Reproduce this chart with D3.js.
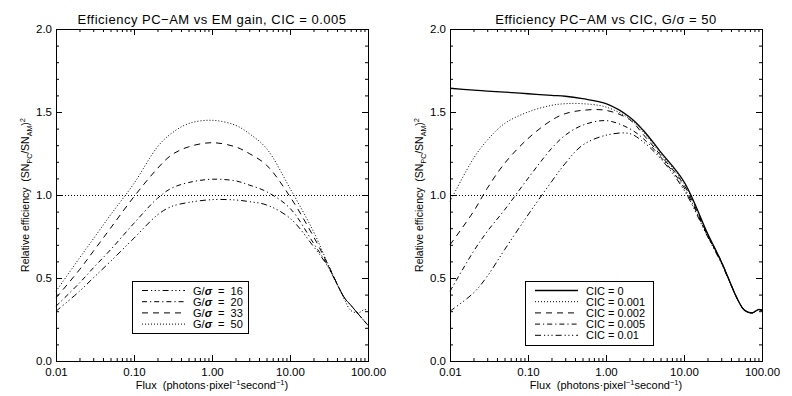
<!DOCTYPE html>
<html>
<head>
<meta charset="utf-8">
<script src="https://cdn.jsdelivr.net/npm/d3@7"></script>
<style>
  body { margin: 0; background: #fff; }
  svg { display: block; font-family: "Liberation Sans", Arial, sans-serif; }
</style>
</head>
<body>
<svg id="chart" width="792" height="396"></svg>
<script>
// flux samples (photons/pixel/second), shared by every curve
const flux = [0.01, 0.02, 0.03, 0.05, 0.1, 0.2, 0.3, 0.5, 1, 2, 3, 5, 10, 20, 30, 50, 60, 75, 90, 100];

// left panel: G/sigma, CIC = 0.005
const gainLabels = ['16', '20', '33', '50'];
const gain16 = [0.30, 0.42, 0.50, 0.60, 0.74, 0.88, 0.93, 0.955, 0.972, 0.97, 0.96, 0.94, 0.86, 0.69, 0.575, 0.38, 0.337, 0.283, 0.24, 0.215];
const gain20 = [0.33, 0.47, 0.56, 0.67, 0.83, 0.98, 1.04, 1.075, 1.095, 1.085, 1.06, 1.02, 0.92, 0.71, 0.58, 0.38, 0.337, 0.283, 0.24, 0.215];
const gain33 = [0.38, 0.55, 0.66, 0.80, 0.99, 1.16, 1.24, 1.29, 1.315, 1.29, 1.25, 1.18, 0.99, 0.75, 0.59, 0.38, 0.337, 0.283, 0.24, 0.215];
const gain50 = [0.42, 0.62, 0.735, 0.88, 1.07, 1.29, 1.37, 1.43, 1.45, 1.42, 1.37, 1.28, 1.04, 0.78, 0.595, 0.37, 0.305, 0.29, 0.31, 0.305];

// right panel: CIC, G/sigma = 50
const cicLabels = ['0', '0.001', '0.002', '0.005', '0.01'];
const cic0    = [1.643, 1.632, 1.626, 1.62, 1.61, 1.60, 1.595, 1.58, 1.55, 1.47, 1.39, 1.26, 1.08, 0.77, 0.60, 0.36, 0.305, 0.29, 0.31, 0.305];
const cic0001 = [0.96, 1.22, 1.33, 1.43, 1.50, 1.54, 1.55, 1.55, 1.53, 1.46, 1.38, 1.25, 1.07, 0.765, 0.60, 0.36, 0.305, 0.29, 0.31, 0.305];
const cic0002 = [0.70, 0.90, 1.04, 1.19, 1.34, 1.45, 1.49, 1.51, 1.51, 1.455, 1.365, 1.24, 1.06, 0.76, 0.60, 0.36, 0.305, 0.29, 0.31, 0.305];
const cic0005 = [0.42, 0.66, 0.78, 0.91, 1.10, 1.28, 1.36, 1.42, 1.448, 1.40, 1.34, 1.23, 1.045, 0.755, 0.595, 0.36, 0.305, 0.29, 0.31, 0.305];
const cic001  = [0.30, 0.41, 0.51, 0.67, 0.88, 1.08, 1.19, 1.30, 1.36, 1.37, 1.32, 1.22, 1.03, 0.75, 0.59, 0.36, 0.305, 0.29, 0.31, 0.305];

const xTickValues = [0.01, 0.1, 1, 10, 100];
const xTickLabels = ['0.01', '0.10', '1.00', '10.00', '100.00'];
const yTickValues = [0, 0.5, 1, 1.5, 2];
const yTickLabels = ['0.0', '0.5', '1.0', '1.5', '2.0'];

const DASH = {
  solid: null,
  dot: '1,2',
  dash: '6,5',
  dashDot: '5,3,1.2,3',
  dashDot3: '6,3,1.2,2.5,1.2,2.5,1.2,3'
};

const svg = d3.select('#chart');
const plotTop = 29, plotBottom = 361;

function panel(cfg) {
  const g = svg.append('g');
  const x = d3.scaleLog().domain([0.01, 100]).range([cfg.left, cfg.right]);
  const y = d3.scaleLinear().domain([0, 2]).range([plotBottom, plotTop]);

  // minor ticks
  const xMinor = x.ticks().filter(v => !xTickValues.some(m => Math.abs(m - v) < 1e-9));
  const yMinor = y.ticks(20).filter(v => Math.abs(v * 2 - Math.round(v * 2)) > 1e-6);

  [[d3.axisBottom(x), plotBottom], [d3.axisTop(x), plotTop]].forEach(([ax, yy]) => {
    g.append('g').attr('transform', `translate(0,${yy})`)
      .call(ax.tickValues(xMinor).tickSize(-3).tickFormat(''))
      .call(s => s.select('.domain').remove());
  });
  g.append('g').attr('transform', `translate(0,${plotTop})`)
    .call(d3.axisTop(x).tickValues(xTickValues).tickSize(-6).tickFormat(''))
    .call(s => s.select('.domain').remove());
  g.append('g').attr('transform', `translate(0,${plotBottom})`)
    .call(d3.axisBottom(x).tickValues(xTickValues).tickSize(-6).tickPadding(7)
      .tickFormat((d, i) => xTickLabels[i]))
    .call(s => s.select('.domain').remove());

  g.append('g').attr('transform', `translate(${cfg.left},0)`)
    .call(d3.axisLeft(y).tickValues(yMinor).tickSize(-3).tickFormat(''))
    .call(s => s.select('.domain').remove());
  g.append('g').attr('transform', `translate(${cfg.right},0)`)
    .call(d3.axisRight(y).tickValues(yMinor).tickSize(-3).tickFormat(''))
    .call(s => s.select('.domain').remove());
  g.append('g').attr('transform', `translate(${cfg.right},0)`)
    .call(d3.axisRight(y).tickValues(yTickValues).tickSize(-6).tickFormat(''))
    .call(s => s.select('.domain').remove());
  g.append('g').attr('transform', `translate(${cfg.left},0)`)
    .call(d3.axisLeft(y).tickValues(yTickValues).tickSize(-6).tickPadding(4)
      .tickFormat((d, i) => yTickLabels[i]))
    .call(s => s.select('.domain').remove());

  g.selectAll('.tick text').attr('font-size', 11.5).attr('font-family', null).attr('fill', '#000');
  g.selectAll('.tick line').attr('stroke', '#000');

  // frame
  g.append('rect')
    .attr('x', cfg.left + 0.5).attr('y', plotTop + 0.5)
    .attr('width', cfg.right - cfg.left).attr('height', plotBottom - plotTop)
    .attr('fill', 'none').attr('stroke', '#000').attr('stroke-width', 1);

  // reference line at 1.0
  g.append('line')
    .attr('x1', x(0.01)).attr('x2', x(100))
    .attr('y1', Math.round(y(1)) + 0.5).attr('y2', Math.round(y(1)) + 0.5)
    .attr('stroke', '#000').attr('stroke-dasharray', '1,2');

  const line = d3.line()
    .x((d, i) => x(flux[i]))
    .y(d => y(d))
    .curve(d3.curveCatmullRom.alpha(0.5));

  cfg.series.forEach(s => {
    g.append('path')
      .attr('d', line(s.values))
      .attr('fill', 'none')
      .attr('stroke', '#000')
      .attr('stroke-width', s.dash ? 1 : 1.3)
      .attr('stroke-dasharray', s.dash);
  });

  // title
  g.append('text')
    .attr('x', (cfg.left + cfg.right) / 2).attr('y', 24)
    .attr('text-anchor', 'middle').attr('font-size', 13)
    .attr('letter-spacing', 0.5)
    .style('white-space', 'pre')
    .text(cfg.title);

  // x axis title
  const xt = g.append('text')
    .attr('x', (cfg.left + cfg.right) / 2).attr('y', 389)
    .attr('text-anchor', 'middle').attr('font-size', 11)
    .style('white-space', 'pre');
  xt.append('tspan').text('Flux  (photons\u00b7pixel');
  xt.append('tspan').attr('dy', -4).attr('font-size', 7.5).text('\u22121');
  xt.append('tspan').attr('dy', 4).text('second');
  xt.append('tspan').attr('dy', -4).attr('font-size', 7.5).text('\u22121');
  xt.append('tspan').attr('dy', 4).text(')');

  // y axis title
  const yt = g.append('text')
    .attr('transform', `translate(${cfg.left - 27},${(plotTop + plotBottom) / 2}) rotate(-90)`)
    .attr('text-anchor', 'middle').attr('font-size', 10.5)
    .style('white-space', 'pre');
  yt.append('tspan').text('Relative efficiency  (SN');
  yt.append('tspan').attr('dy', 2.5).attr('font-size', 7).text('PC');
  yt.append('tspan').attr('dy', -2.5).text('/SN');
  yt.append('tspan').attr('dy', 2.5).attr('font-size', 7).text('AM');
  yt.append('tspan').attr('dy', -2.5).text(')');
  yt.append('tspan').attr('dy', -4.5).attr('font-size', 7.5).text('2');

  // legend
  const L = cfg.legend;
  g.append('rect')
    .attr('x', L.x + 0.5).attr('y', L.y + 0.5)
    .attr('width', L.w).attr('height', L.h)
    .attr('fill', '#fff').attr('stroke', '#000');
  L.items.forEach((it, i) => {
    const cy = L.y + 9.5 + i * 11.2;
    g.append('line')
      .attr('x1', L.x + 10).attr('x2', L.x + 53)
      .attr('y1', cy).attr('y2', cy)
      .attr('stroke', '#000').attr('stroke-width', it.dash ? 1 : 1.3)
      .attr('stroke-dasharray', it.dash);
    const t = g.append('text')
      .attr('x', L.x + 61).attr('y', cy + 4)
      .attr('font-size', 11).style('white-space', 'pre');
    if (it.sigma) {
      t.append('tspan').text('G/');
      t.append('tspan').attr('font-style', 'italic').attr('font-weight', 'bold').text('\u03c3');
      t.append('tspan').text('  =  ' + it.label);
    } else {
      t.text('CIC = ' + it.label);
    }
  });
}

const gainDash = [DASH.dashDot3, DASH.dashDot, DASH.dash, DASH.dot];
const gainSeries = [gain16, gain20, gain33, gain50];
panel({
  left: 56, right: 368,
  title: 'Efficiency PC\u2212AM vs EM gain, CIC = 0.005',
  series: gainSeries.map((v, i) => ({ values: v, dash: gainDash[i] })),
  legend: {
    x: 132, y: 281, w: 116, h: 52,
    items: gainLabels.map((l, i) => ({ label: l, dash: gainDash[i], sigma: true }))
  }
});

const cicDash = [DASH.solid, DASH.dot, DASH.dash, DASH.dashDot, DASH.dashDot3];
const cicSeries = [cic0, cic0001, cic0002, cic0005, cic001];
panel({
  left: 450, right: 762,
  title: 'Efficiency PC\u2212AM vs CIC, G/\u03c3 = 50',
  series: cicSeries.map((v, i) => ({ values: v, dash: cicDash[i] })),
  legend: {
    x: 525, y: 281, w: 128, h: 64,
    items: cicLabels.map((l, i) => ({ label: l, dash: cicDash[i], sigma: false }))
  }
});
</script>
</body>
</html>
